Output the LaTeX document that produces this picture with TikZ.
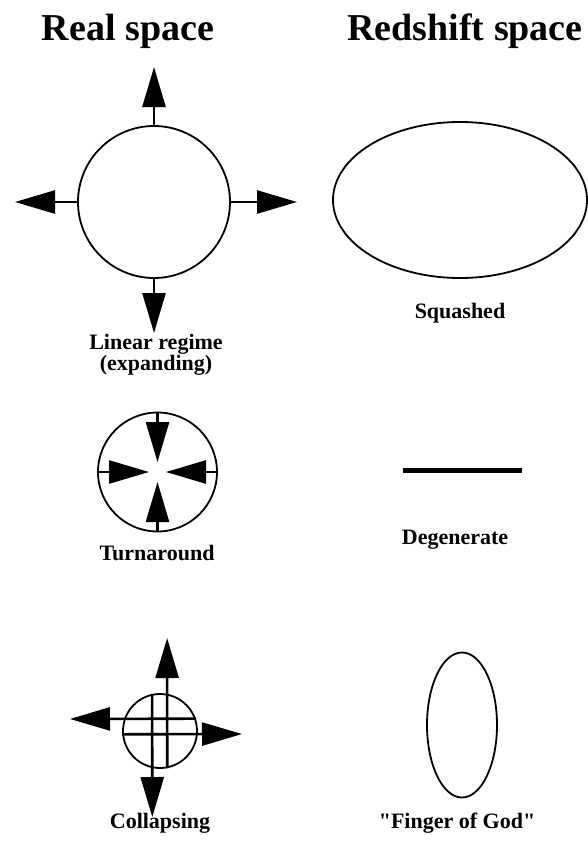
\documentclass[tikz,border=0pt]{standalone}
\usepackage{fontspec}
\setmainfont{Liberation Serif}[Ligatures=TeXOff]
\usetikzlibrary{arrows.meta, positioning, shapes.geometric}
\tikzset{
  rs title/.style={font=\fontsize{38}{42}\selectfont\bfseries, inner sep=0pt, anchor=base},
  rs label/.style={font=\fontsize{22}{20}\selectfont\bfseries, align=center, inner sep=0pt},
  rs sphere/.style={circle, draw=black, line width=1.8pt, inner sep=0pt},
  rs oval/.style={ellipse, draw=black, line width=1.8pt, inner sep=0pt},
  rs arrow/.style={-{Triangle[length=40pt, width=23pt]}, line width=2.6pt, draw=black},
  rs bar/.style={line width=5pt}
}

\begin{document}
\begin{tikzpicture}[x=1pt, y=-1pt]
  \useasboundingbox (0,0) rectangle (588,843);

  % column titles
  \node (realT) [rs title] at (128,41) {Real space};
  \node (redT) [rs title] at (465,41) {Redshift space};

  % linear regime: sphere expanding
  \node (lin) [rs sphere, minimum size=152pt] at (154,202) {};
  \coordinate (lin up) at (154,67);
  \coordinate (lin down) at (154,333);
  \coordinate (lin left) at (15,202);
  \coordinate (lin right) at (297,202);
  \draw [rs arrow] (lin.north) -- (lin up);
  \draw [rs arrow] (lin.south) -- (lin down);
  \draw [rs arrow] (lin.west) -- (lin left);
  \draw [rs arrow] (lin.east) -- (lin right);
  \node (linL) [rs label] at (156,355) {Linear regime\\(expanding)};

  % turnaround
  \node (turn) [rs sphere, minimum size=119pt] at (157.5,472) {};
  \coordinate (turn c1) at (157.5,462);
  \coordinate (turn c2) at (157.5,482);
  \coordinate (turn c3) at (149,472);
  \coordinate (turn c4) at (166,472);
  \draw [rs arrow] (turn.north) -- (turn c1);
  \draw [rs arrow] (turn.south) -- (turn c2);
  \draw [rs arrow] (turn.west) -- (turn c3);
  \draw [rs arrow] (turn.east) -- (turn c4);
  \node (turnL) [rs label] at (157,553) {Turnaround};

  % collapsing
  \node (col) [rs sphere, minimum size=74pt] at (160,731) {};
  \coordinate (col down) at (152.3,817);
  \coordinate (col up) at (167.1,638);
  \coordinate (col left) at (70,719);
  \coordinate (col right) at (242,734);
  \draw [rs arrow] (col.102) -- (col down);
  \draw [rs arrow] (col.-79) -- (col up);
  \draw [rs arrow] (col.19) -- (col left);
  \draw [rs arrow] (col.185) -- (col right);
  \node (colL) [rs label] at (160,823) {Collapsing};

  % redshift space
  \node (sq) [rs oval, minimum width=254pt, minimum height=156pt] at (460,200) {};
  \node (sqL) [rs label] at (460,313) {Squashed};

  \draw [rs bar] (403,470) -- (522,470);
  \node (degL) [rs label] at (455,540) {Degenerate};

  \node (fog) [rs oval, minimum width=70pt, minimum height=145pt] at (462,725) {};
  \node (fogL) [rs label] at (457,823) {"Finger of God"};
\end{tikzpicture}
\end{document}
